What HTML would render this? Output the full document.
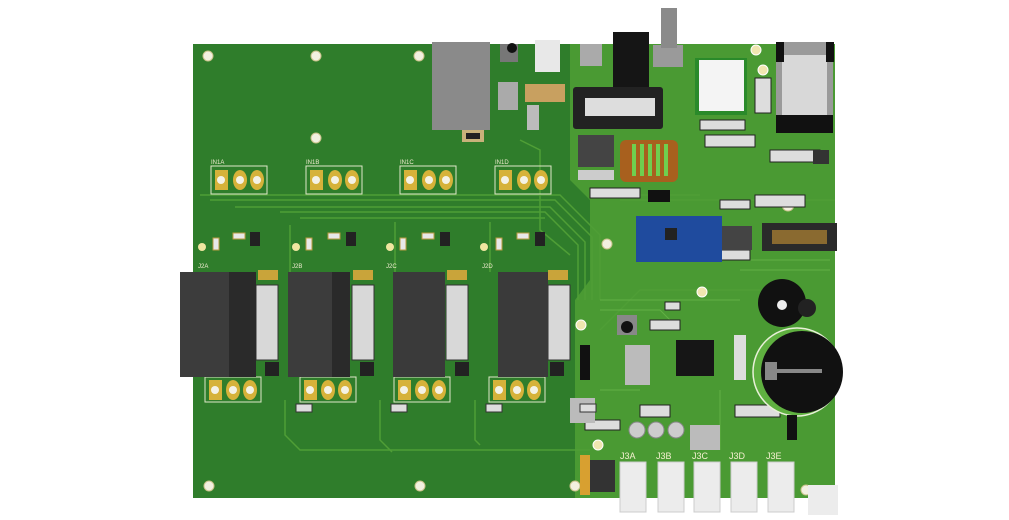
<!DOCTYPE html>
<html><head><meta charset="utf-8"><style>
html,body{margin:0;padding:0;background:#fff;width:1009px;height:520px;overflow:hidden}
svg{display:block}
text{font-family:"Liberation Sans",sans-serif}
</style></head><body>
<svg width="1009" height="520" viewBox="0 0 1009 520" xmlns="http://www.w3.org/2000/svg">
<rect width="1009" height="520" fill="#fff"/>
<rect x="193" y="44" width="642" height="454" fill="#2f7d2b"/>
<path d="M570 44 H835 V498 H575 V300 L590 280 V200 L570 180 Z" fill="#4a9a33"/>
<g stroke="#4f9e36" stroke-width="1.5" fill="none">
<path d="M200 195 H560 L600 235 V300"/>
<path d="M210 200 H555 L592 237 V300"/>
<path d="M235 207 H550 L585 242 V300"/>
<path d="M280 212 H545 L578 245 V300"/>
<path d="M290 225 V272"/><path d="M300 218 H545"/>
<path d="M395 222 V272"/><path d="M490 222 V272"/>
<path d="M285 400 V435 L300 450 H590"/>
<path d="M380 400 V440 L392 452"/>
<path d="M475 400 V440 L480 445"/>
<path d="M520 140 L540 150 V230 L570 255"/>
<path d="M600 330 L640 290 H760"/>
<path d="M620 200 H835"/>
<path d="M600 195 L700 195"/>
</g>
<g stroke="#62b045" stroke-width="1" fill="none">
<path d="M600 300 H740"/><path d="M600 310 H660 L680 330"/><path d="M740 260 H830"/><path d="M740 270 H830"/>
<path d="M720 390 V450"/><path d="M600 390 H640"/>
</g>
<g fill="#f2f0e0" stroke="#c9c28a" stroke-width="1">
<circle cx="208" cy="56" r="5"/><circle cx="316" cy="56" r="5"/><circle cx="419" cy="56" r="5"/><circle cx="316" cy="138" r="5"/>
<circle cx="209" cy="486" r="5"/><circle cx="420" cy="486" r="5"/><circle cx="575" cy="486" r="5"/>
<circle cx="605" cy="160" r="6"/><circle cx="607" cy="244" r="5"/><circle cx="806" cy="490" r="5"/><circle cx="788" cy="205" r="6"/><circle cx="788" cy="382" r="5"/>
</g>
<rect x="432" y="42" width="58" height="88" fill="#8a8a8a"/>
<rect x="462" y="130" width="22" height="12" fill="#c8b27a"/><rect x="466" y="133" width="14" height="6" fill="#222"/>
<rect x="500" y="44" width="18" height="18" fill="#777"/><circle cx="512" cy="48" r="5" fill="#111"/>
<rect x="535" y="40" width="25" height="32" fill="#e8e8e8"/>
<rect x="580" y="44" width="22" height="22" fill="#aaa"/>
<rect x="498" y="82" width="20" height="28" fill="#aaa"/>
<rect x="527" y="105" width="12" height="25" fill="#bbb"/>
<rect x="525" y="84" width="40" height="18" fill="#c8a060"/>
<rect x="613" y="32" width="36" height="58" fill="#151515"/>
<rect x="653" y="45" width="30" height="22" fill="#9a9a9a"/><rect x="661" y="8" width="16" height="40" fill="#8a8a8a"/>
<rect x="573" y="87" width="90" height="42" fill="#222" rx="3"/>
<rect x="585" y="98" width="70" height="18" fill="#ddd"/>
<rect x="578" y="135" width="36" height="32" fill="#444"/>
<rect x="578" y="170" width="36" height="10" fill="#ccc"/>
<rect x="620" y="140" width="58" height="42" fill="#a8601e" rx="6"/>
<g fill="#6fcf4f"><rect x="632" y="144" width="4" height="32"/><rect x="640" y="144" width="4" height="32"/><rect x="648" y="144" width="4" height="32"/><rect x="656" y="144" width="4" height="32"/><rect x="664" y="144" width="4" height="32"/></g>
<rect x="648" y="190" width="22" height="12" fill="#111"/>
<rect x="695" y="58" width="52" height="57" fill="#2a8a2a"/>
<rect x="699" y="60" width="45" height="51" fill="#f4f4f4"/>
<circle cx="756" cy="50" r="5" fill="#f0e6b0" stroke="#fff"/><circle cx="763" cy="70" r="5" fill="#f0e6b0" stroke="#fff"/>
<rect x="776" y="42" width="57" height="90" fill="#9a9a9a"/>
<rect x="782" y="55" width="45" height="60" fill="#d8d8d8"/>
<rect x="776" y="42" width="8" height="20" fill="#111"/><rect x="826" y="42" width="8" height="20" fill="#111"/>
<rect x="776" y="115" width="57" height="18" fill="#111"/>
<g fill="#ddd" stroke="#222" stroke-width="1">
<rect x="770" y="150" width="50" height="12"/><rect x="755" y="195" width="50" height="12"/><rect x="585" y="420" width="35" height="10"/>
<rect x="640" y="405" width="30" height="12"/><rect x="735" y="405" width="45" height="12"/>
<rect x="755" y="78" width="16" height="35"/><rect x="700" y="120" width="45" height="10"/><rect x="705" y="135" width="50" height="12"/>
<rect x="590" y="188" width="50" height="10"/><rect x="720" y="200" width="30" height="9"/><rect x="720" y="250" width="30" height="10"/>
<rect x="650" y="320" width="30" height="10"/><rect x="665" y="302" width="15" height="8"/>
</g>
<rect x="813" y="150" width="16" height="14" fill="#333"/>
<rect x="762" y="223" width="75" height="28" fill="#2a2a2a"/>
<rect x="772" y="230" width="55" height="14" fill="#8a6a30"/>
<rect x="636" y="216" width="86" height="46" fill="#1f4b9e"/>
<rect x="665" y="228" width="12" height="12" fill="#222"/>
<rect x="722" y="226" width="30" height="24" fill="#444"/>
<circle cx="782" cy="303" r="24" fill="#111"/><circle cx="782" cy="305" r="5" fill="#eee"/>
<circle cx="807" cy="308" r="9" fill="#222"/>
<circle cx="797" cy="372" r="44" fill="#5fb040" stroke="#e8f0d8" stroke-width="1.5"/>
<circle cx="802" cy="372" r="41" fill="#111"/>
<rect x="765" y="362" width="12" height="18" fill="#888"/><rect x="777" y="369" width="45" height="4" fill="#888"/>
<rect x="676" y="340" width="38" height="36" fill="#161616"/>
<rect x="617" y="315" width="20" height="20" fill="#888"/><circle cx="627" cy="327" r="6" fill="#111"/>
<rect x="625" y="345" width="25" height="40" fill="#bbb"/>
<rect x="580" y="345" width="10" height="35" fill="#111"/>
<rect x="734" y="335" width="12" height="45" fill="#ddd"/>
<rect x="570" y="398" width="25" height="25" fill="#bbb"/>
<rect x="690" y="425" width="30" height="25" fill="#bbb"/>
<rect x="787" y="415" width="10" height="25" fill="#111"/>
<g fill="#ccc" stroke="#888"><circle cx="637" cy="430" r="8"/><circle cx="656" cy="430" r="8"/><circle cx="676" cy="430" r="8"/></g>
<rect x="590" y="460" width="25" height="32" fill="#333"/>
<rect x="580" y="455" width="10" height="40" fill="#d8a030"/>
<circle cx="598" cy="445" r="5" fill="#f0e6b0" stroke="#fff"/>
<circle cx="581" cy="325" r="5" fill="#f0e6b0" stroke="#fff"/>
<circle cx="702" cy="292" r="5" fill="#f0e6b0" stroke="#fff"/>
<rect x="808" y="485" width="30" height="30" fill="#ececec"/>
<g fill="#ececec" stroke="#ccc">
<rect x="620" y="462" width="26" height="50"/><rect x="658" y="462" width="26" height="50"/><rect x="694" y="462" width="26" height="50"/><rect x="731" y="462" width="26" height="50"/><rect x="768" y="462" width="26" height="50"/>
</g>
<g font-size="9" fill="#f4f0d0">
<text x="620" y="459">J3A</text><text x="656" y="459">J3B</text><text x="692" y="459">J3C</text><text x="729" y="459">J3D</text><text x="766" y="459">J3E</text>
</g>
<g stroke="#dfe8c8" stroke-width="1" fill="none">
<rect x="211" y="166" width="56" height="28"/><rect x="306" y="166" width="56" height="28"/><rect x="400" y="166" width="56" height="28"/><rect x="495" y="166" width="56" height="28"/>
<rect x="205" y="377" width="56" height="25"/><rect x="300" y="377" width="56" height="25"/><rect x="394" y="377" width="56" height="25"/><rect x="489" y="377" width="56" height="25"/>
</g>
<g fill="#d6b23a">
<rect x="215" y="170" width="13" height="20"/><ellipse cx="240" cy="180" rx="7" ry="10"/><ellipse cx="257" cy="180" rx="7" ry="10"/>
<rect x="310" y="170" width="13" height="20"/><ellipse cx="335" cy="180" rx="7" ry="10"/><ellipse cx="352" cy="180" rx="7" ry="10"/>
<rect x="404" y="170" width="13" height="20"/><ellipse cx="429" cy="180" rx="7" ry="10"/><ellipse cx="446" cy="180" rx="7" ry="10"/>
<rect x="499" y="170" width="13" height="20"/><ellipse cx="524" cy="180" rx="7" ry="10"/><ellipse cx="541" cy="180" rx="7" ry="10"/>
<rect x="209" y="380" width="13" height="20"/><ellipse cx="233" cy="390" rx="7" ry="10"/><ellipse cx="250" cy="390" rx="7" ry="10"/>
<rect x="304" y="380" width="13" height="20"/><ellipse cx="328" cy="390" rx="7" ry="10"/><ellipse cx="345" cy="390" rx="7" ry="10"/>
<rect x="398" y="380" width="13" height="20"/><ellipse cx="422" cy="390" rx="7" ry="10"/><ellipse cx="439" cy="390" rx="7" ry="10"/>
<rect x="493" y="380" width="13" height="20"/><ellipse cx="517" cy="390" rx="7" ry="10"/><ellipse cx="534" cy="390" rx="7" ry="10"/>
</g>
<g fill="#f4f2e6">
<circle cx="221" cy="180" r="4"/><circle cx="240" cy="180" r="4"/><circle cx="257" cy="180" r="4"/>
<circle cx="316" cy="180" r="4"/><circle cx="335" cy="180" r="4"/><circle cx="352" cy="180" r="4"/>
<circle cx="410" cy="180" r="4"/><circle cx="429" cy="180" r="4"/><circle cx="446" cy="180" r="4"/>
<circle cx="505" cy="180" r="4"/><circle cx="524" cy="180" r="4"/><circle cx="541" cy="180" r="4"/>
<circle cx="215" cy="390" r="4"/><circle cx="233" cy="390" r="4"/><circle cx="250" cy="390" r="4"/>
<circle cx="310" cy="390" r="4"/><circle cx="328" cy="390" r="4"/><circle cx="345" cy="390" r="4"/>
<circle cx="404" cy="390" r="4"/><circle cx="422" cy="390" r="4"/><circle cx="439" cy="390" r="4"/>
<circle cx="499" cy="390" r="4"/><circle cx="517" cy="390" r="4"/><circle cx="534" cy="390" r="4"/>
</g>
<g font-size="6" fill="#f0ecd0">
<text x="211" y="164">IN1A</text><text x="306" y="164">IN1B</text><text x="400" y="164">IN1C</text><text x="495" y="164">IN1D</text>
<text x="198" y="268">J2A</text><text x="292" y="268">J2B</text><text x="386" y="268">J2C</text><text x="482" y="268">J2D</text>
</g>
<g fill="#d8d8d8" stroke="#333" stroke-width="1">
<rect x="256" y="285" width="22" height="75"/><rect x="352" y="285" width="22" height="75"/><rect x="446" y="285" width="22" height="75"/><rect x="548" y="285" width="22" height="75"/>
</g>
<g fill="#c9a43a"><rect x="258" y="270" width="20" height="10"/><rect x="353" y="270" width="20" height="10"/><rect x="447" y="270" width="20" height="10"/><rect x="548" y="270" width="20" height="10"/></g>
<g fill="#222"><rect x="265" y="362" width="14" height="14"/><rect x="360" y="362" width="14" height="14"/><rect x="455" y="362" width="14" height="14"/><rect x="550" y="362" width="14" height="14"/>
<rect x="250" y="232" width="10" height="14"/><rect x="346" y="232" width="10" height="14"/><rect x="440" y="232" width="10" height="14"/><rect x="535" y="232" width="10" height="14"/></g>
<g fill="#e8e8e8" stroke="#b89a40"><rect x="233" y="233" width="12" height="6"/><rect x="328" y="233" width="12" height="6"/><rect x="422" y="233" width="12" height="6"/><rect x="517" y="233" width="12" height="6"/>
<rect x="213" y="238" width="6" height="12"/><rect x="306" y="238" width="6" height="12"/><rect x="400" y="238" width="6" height="12"/><rect x="496" y="238" width="6" height="12"/></g>
<g fill="#f0e6a0"><circle cx="202" cy="247" r="4"/><circle cx="296" cy="247" r="4"/><circle cx="390" cy="247" r="4"/><circle cx="484" cy="247" r="4"/></g>
<g fill="#ddd" stroke="#333" stroke-width="1"><rect x="296" y="404" width="16" height="8"/><rect x="391" y="404" width="16" height="8"/><rect x="486" y="404" width="16" height="8"/><rect x="580" y="404" width="16" height="8"/></g>
<rect x="180" y="272" width="50" height="105" fill="#3c3c3c"/><rect x="229" y="272" width="27" height="105" fill="#2a2a2a"/>
<rect x="288" y="272" width="45" height="105" fill="#3c3c3c"/><rect x="332" y="272" width="18" height="105" fill="#2a2a2a"/>
<rect x="393" y="272" width="52" height="105" fill="#3a3a3a"/>
<rect x="498" y="272" width="50" height="105" fill="#3a3a3a"/>
</svg>
</body></html>
